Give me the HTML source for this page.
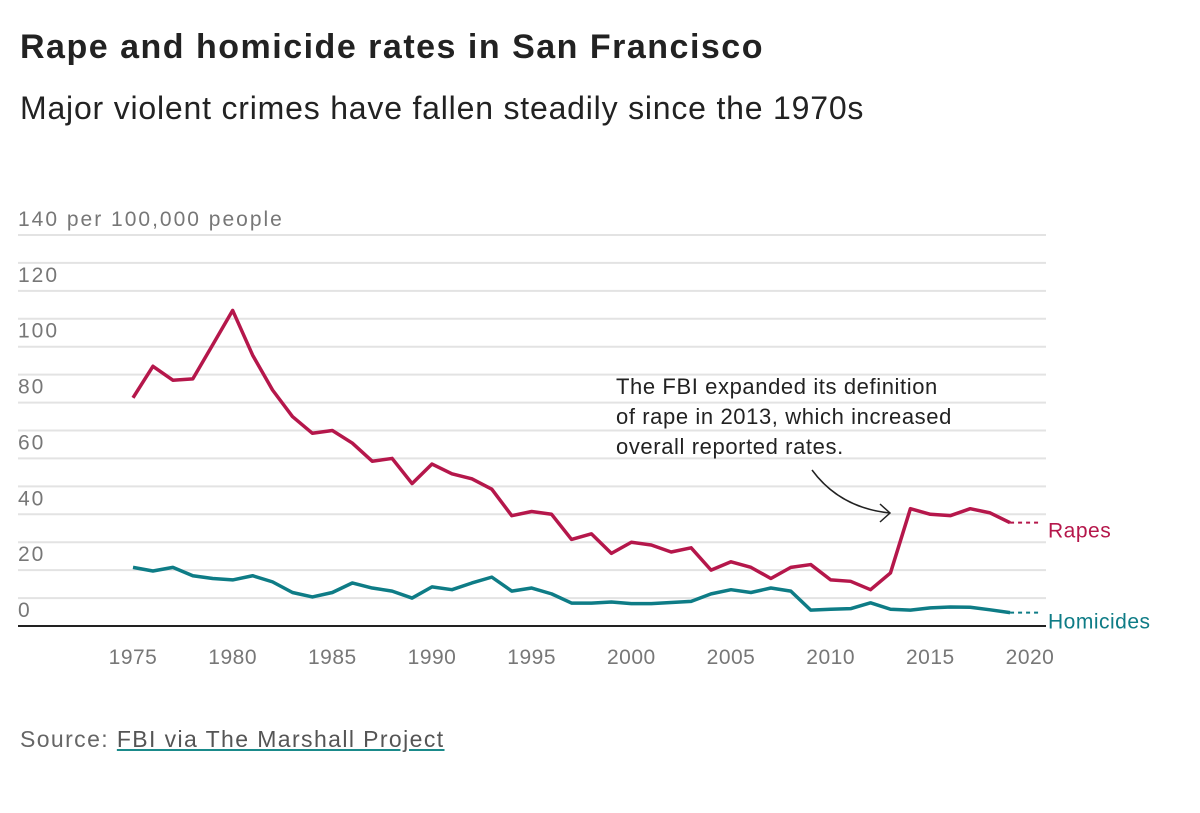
<!DOCTYPE html>
<html><head><meta charset="utf-8">
<style>
body{margin:0;background:#fff;width:1200px;height:813px;overflow:hidden;font-family:"Liberation Sans",sans-serif;}
#title{position:absolute;left:20px;top:28px;font-size:34px;letter-spacing:1.5px;font-weight:bold;color:#222;margin:0;}
#sub{position:absolute;left:20px;top:90px;font-size:32px;letter-spacing:0.8px;color:#222;margin:0;}
#src{position:absolute;left:20px;top:726px;font-size:23px;letter-spacing:1.4px;color:#666;}
#src a{color:#555;text-decoration:underline;text-decoration-color:#1a8a8a;}
svg{position:absolute;left:0;top:0;}
</style></head><body>
<h1 id="title">Rape and homicide rates in San Francisco</h1>
<p id="sub">Major violent crimes have fallen steadily since the 1970s</p>
<svg id="chart" width="1200" height="813"></svg>
<div id="src">Source: <a>FBI via The Marshall Project</a></div>
<script>
const years=[1975,1976,1977,1978,1979,1980,1981,1982,1983,1984,1985,1986,1987,1988,1989,1990,1991,1992,1993,1994,1995,1996,1997,1998,1999,2000,2001,2002,2003,2004,2005,2006,2007,2008,2009,2010,2011,2012,2013,2014,2015,2016,2017,2018,2019];
const rapes=[81.7,93,88,88.5,100.7,113,97,84.5,75,69,70,65.5,59,60,51,58,54.5,52.7,49,39.5,41,40,31,33,26,30,29,26.5,28,20,23,21,17,21,22,16.5,16,13,19,42,40,39.5,42,40.5,37];
const homicides=[21,19.7,21,18,17,16.5,18,15.8,12,10.4,12,15.4,13.6,12.5,10,14,13,15.4,17.5,12.5,13.6,11.5,8.2,8.2,8.6,8,8,8.4,8.8,11.5,13,12,13.6,12.5,5.7,6,6.2,8.3,6,5.7,6.5,6.8,6.7,5.8,4.8];
const yTicks=[0,20,40,60,80,100,120,140];
const xTicks=[1975,1980,1985,1990,1995,2000,2005,2010,2015,2020];
const NS="http://www.w3.org/2000/svg";
const svg=document.getElementById('chart');
const X=y=>133+(y-1975)*(1030-133)/45;
const Y=v=>626-v*(626-235)/140;
function mk(t,a){const e=document.createElementNS(NS,t);for(const k in a)e.setAttribute(k,a[k]);svg.appendChild(e);return e;}
for(let v=10;v<=140;v+=10){
 const g=mk('line',{x1:18,x2:1046,y1:Y(v),y2:Y(v),stroke:'#e3e3e3','stroke-width':2});
 
 
}
yTicks.forEach(v=>{
 const t=mk('text',{x:18,y:Y(v)-9,'font-size':21,'letter-spacing':2,fill:'#777'});
 t.textContent=v===140?'140 per 100,000 people':String(v);
 
 
});
xTicks.forEach(v=>{
 const t=mk('text',{x:X(v),y:664,'font-size':21,'letter-spacing':0.5,fill:'#777','text-anchor':'middle'});
 t.textContent=v;
 
 
});
const ax=mk('line',{x1:18,x2:1046,y1:626,y2:626,stroke:'#222','stroke-width':2});


function series(vals,col,name,label,ly){
 const p=mk('polyline',{points:vals.map((v,i)=>X(years[i])+','+Y(v)).join(' '),fill:'none',stroke:col,'stroke-width':3.5,'stroke-linejoin':'round'});
 
 
 const last=vals[vals.length-1];
 const d=mk('line',{x1:X(2019),x2:1040,y1:Y(last),y2:Y(last),stroke:col,'stroke-width':2,'stroke-dasharray':'4,4'});
 
 
 const t=mk('text',{x:1048,y:Y(last)+ly,'font-size':21,'letter-spacing':0.5,fill:col});
 t.textContent=label;
 
 
}
series(rapes,'#b5174b','rapes','Rapes',15);
series(homicides,'#0e7c86','homicides','Homicides',16);
const ann=["The FBI expanded its definition","of rape in 2013, which increased","overall reported rates."];
ann.forEach((s,i)=>{
 const t=mk('text',{x:616,y:394+i*30,'font-size':22,'letter-spacing':0.6,fill:'#222'});
 t.textContent=s;
 
 
});
const ar=mk('path',{d:'M812,470 Q840,508 890,513 M880,504 L890,513 L880,522',fill:'none',stroke:'#222','stroke-width':1.5});


</script>
</body></html>
